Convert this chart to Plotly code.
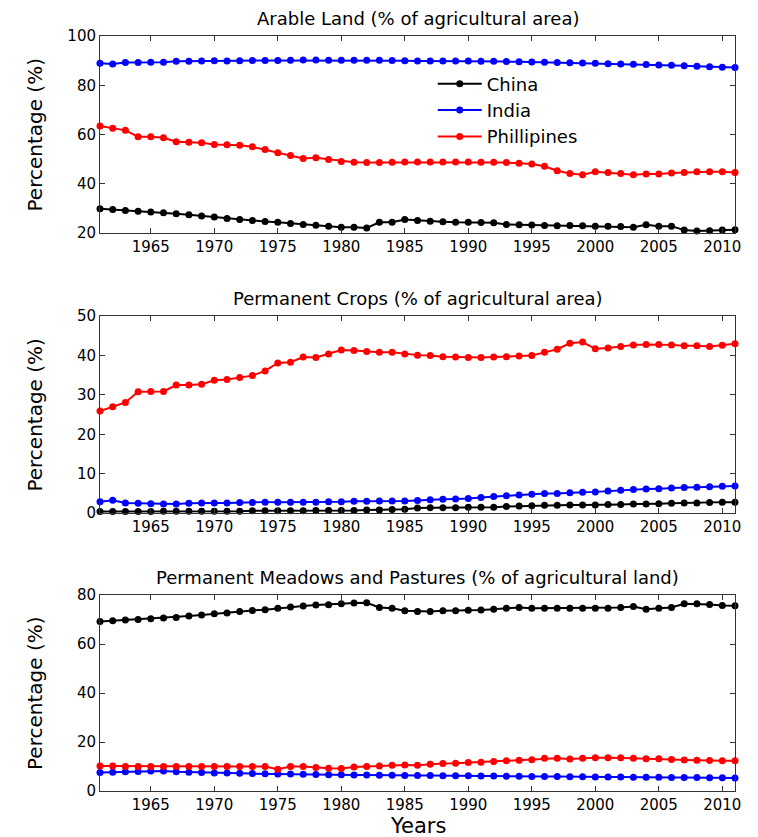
import plotly.graph_objects as go

years = list(range(1961, 2012))

# Arable land (% of agricultural area)
arable_china = [29.9, 29.6, 29.2, 28.9, 28.5, 28.2, 27.8, 27.4, 26.9, 26.5,
                25.9, 25.5, 25.1, 24.7, 24.4, 23.9, 23.5, 23.2, 22.8, 22.4,
                22.4, 22.1, 24.4, 24.4, 25.5, 25.1, 24.8, 24.6, 24.4, 24.4,
                24.3, 24.2, 23.5, 23.4, 23.3, 23.1, 23.0, 23.1, 23.0, 22.8,
                22.8, 22.7, 22.4, 23.4, 22.8, 22.8, 21.2, 20.8, 20.9, 21.2, 21.3]
arable_india = [88.9, 88.6, 89.2, 89.2, 89.3, 89.3, 89.7, 89.7, 89.9, 90.0,
                89.9, 90.0, 90.1, 90.1, 90.1, 90.2, 90.3, 90.3, 90.2, 90.2,
                90.2, 90.2, 90.2, 90.1, 90.0, 89.9, 89.9, 89.9, 89.8, 89.8,
                89.7, 89.7, 89.6, 89.5, 89.4, 89.3, 89.2, 89.1, 89.0, 88.9,
                88.7, 88.6, 88.5, 88.4, 88.2, 88.1, 87.9, 87.7, 87.5, 87.3, 87.2]
arable_phil = [63.5, 62.5, 61.7, 59.1, 59.1, 58.7, 57.1, 56.9, 56.7, 56.0,
               55.8, 55.6, 55.0, 53.9, 52.6, 51.5, 50.3, 50.6, 49.9, 49.1,
               48.7, 48.6, 48.6, 48.7, 48.8, 48.8, 48.8, 48.8, 48.8, 48.8,
               48.7, 48.7, 48.6, 48.3, 48.0, 47.1, 45.3, 44.2, 43.7, 44.9,
               44.6, 44.2, 43.7, 44.0, 44.0, 44.4, 44.6, 44.9, 44.9, 44.9, 44.6]

# Permanent crops (% of agricultural area)
crops_china = [0.4, 0.4, 0.4, 0.4, 0.4, 0.5, 0.5, 0.5, 0.5, 0.5,
               0.5, 0.5, 0.6, 0.6, 0.6, 0.6, 0.6, 0.7, 0.7, 0.7,
               0.7, 0.8, 0.8, 0.9, 1.0, 1.3, 1.4, 1.4, 1.4, 1.5,
               1.5, 1.5, 1.7, 1.8, 1.9, 2.0, 2.0, 2.1, 2.1, 2.1,
               2.2, 2.2, 2.3, 2.3, 2.4, 2.5, 2.6, 2.6, 2.7, 2.8, 2.8]
crops_india = [2.9, 3.3, 2.6, 2.5, 2.4, 2.3, 2.3, 2.5, 2.6, 2.6,
               2.6, 2.7, 2.7, 2.8, 2.8, 2.8, 2.8, 2.8, 2.9, 2.9,
               3.0, 3.0, 3.1, 3.1, 3.1, 3.2, 3.4, 3.5, 3.6, 3.7,
               4.0, 4.2, 4.4, 4.6, 4.8, 5.0, 5.0, 5.2, 5.3, 5.4,
               5.6, 5.8, 6.0, 6.1, 6.2, 6.4, 6.5, 6.6, 6.7, 6.8, 6.9]
crops_phil = [25.9, 27.0, 28.1, 30.8, 30.9, 30.9, 32.5, 32.5, 32.7, 33.7,
              33.9, 34.4, 34.9, 36.1, 38.1, 38.3, 39.6, 39.5, 40.4, 41.4,
              41.3, 41.0, 40.8, 40.8, 40.4, 40.1, 40.0, 39.7, 39.6, 39.5,
              39.5, 39.6, 39.7, 39.9, 40.0, 40.8, 41.6, 43.1, 43.4, 41.7,
              41.9, 42.3, 42.7, 42.8, 42.8, 42.7, 42.5, 42.5, 42.3, 42.6, 43.0]

# Permanent meadows and pastures (% of agricultural land)
past_china = [69.2, 69.5, 69.8, 70.0, 70.3, 70.6, 70.8, 71.4, 71.8, 72.3,
              72.7, 73.3, 73.7, 74.0, 74.6, 75.1, 75.5, 75.9, 76.0, 76.4,
              76.7, 76.8, 74.9, 74.6, 73.6, 73.3, 73.3, 73.6, 73.6, 73.8,
              73.9, 74.2, 74.6, 74.9, 74.6, 74.6, 74.6, 74.6, 74.6, 74.6,
              74.6, 74.9, 75.3, 74.2, 74.6, 74.9, 76.4, 76.4, 76.1, 75.7, 75.6]
past_india = [7.6, 7.7, 7.9, 8.0, 8.2, 8.2, 7.9, 7.7, 7.5, 7.3,
              7.3, 7.2, 7.1, 7.0, 6.9, 6.9, 6.8, 6.7, 6.6, 6.6,
              6.5, 6.5, 6.4, 6.4, 6.3, 6.3, 6.3, 6.2, 6.2, 6.2,
              6.1, 6.1, 6.0, 6.0, 5.9, 5.9, 5.9, 5.8, 5.8, 5.7,
              5.7, 5.7, 5.6, 5.6, 5.6, 5.5, 5.5, 5.5, 5.4, 5.4, 5.3]
past_phil = [10.2, 10.2, 10.0, 10.0, 10.0, 10.0, 10.0, 10.0, 10.0, 10.0,
             10.0, 10.0, 10.0, 10.0, 8.9, 10.0, 10.0, 9.6, 9.3, 9.2,
             9.8, 10.0, 10.2, 10.5, 10.6, 10.5, 10.9, 11.2, 11.3, 11.6,
             11.7, 12.0, 12.3, 12.5, 12.8, 13.4, 13.4, 13.1, 13.4, 13.6,
             13.6, 13.6, 13.4, 13.2, 13.2, 12.9, 12.7, 12.5, 12.4, 12.3, 12.3]

names = ["China", "India", "Phillipines"]
colors = ["#000000", "#0000ff", "#ff0000"]
panel_titles = ["Arable Land (% of agricultural area)",
                "Permanent Crops (% of agricultural area)",
                "Permanent Meadows and Pastures (% of agricultural land)"]
panel_series = [[arable_china, arable_india, arable_phil],
                [crops_china, crops_india, crops_phil],
                [past_china, past_india, past_phil]]
y_ranges = [[20, 100], [0, 50], [0, 80]]
y_ticks = [[20, 40, 60, 80, 100], [0, 10, 20, 30, 40, 50], [0, 20, 40, 60, 80]]
x_ticks = list(range(1965, 2011, 5))
domains = [[0.739, 1.0], [0.368, 0.629], [0.0, 0.2596]]

FONT = "DejaVu Sans, sans-serif"
fig = go.Figure()
# page body has an 8px margin: figure is sized so it fills the rest of the window
layout = dict(
    width=750, height=829,
    margin=dict(l=92, r=23, t=28, b=46),
    paper_bgcolor="white", plot_bgcolor="white",
    font=dict(family=FONT, color="black", size=15),
    showlegend=True,
    legend=dict(x=0.524, y=0.961, xanchor="left", yanchor="top",
                bgcolor="rgba(0,0,0,0)", borderwidth=0,
                font=dict(size=18, family=FONT, color="black"),
                tracegroupgap=0, itemwidth=44),
)
annotations = []
for i in range(3):
    k = "" if i == 0 else str(i + 1)
    for j in range(3):
        fig.add_trace(go.Scatter(
            x=years, y=panel_series[i][j], name=names[j], mode="lines+markers",
            line=dict(color=colors[j], width=2),
            marker=dict(color=colors[j], size=7),
            xaxis="x" + k, yaxis="y" + k, showlegend=(i == 0),
            cliponaxis=False,
        ))
    axis_common = dict(showgrid=False, zeroline=False, showline=True,
                       linecolor="#333333", linewidth=1, mirror="ticks",
                       ticks="inside", ticklen=5, tickcolor="#333333",
                       tickfont=dict(size=15, family=FONT, color="black"))
    layout["xaxis" + k] = dict(range=[1961, 2011], tickvals=x_ticks,
                               anchor="y" + k, domain=[0, 1], **axis_common)
    layout["yaxis" + k] = dict(range=y_ranges[i], tickvals=y_ticks[i],
                               domain=domains[i], anchor="x" + k, **axis_common)
    annotations.append(dict(text=panel_titles[i], xref="paper", yref="paper",
                            x=0.5, y=domains[i][1], xanchor="center", yanchor="bottom",
                            yshift=5, showarrow=False,
                            font=dict(size=18, family=FONT, color="black")))
    annotations.append(dict(text="Percentage (%)", xref="paper", yref="paper",
                            x=-0.1024, y=(domains[i][0] + domains[i][1]) / 2,
                            xanchor="center", yanchor="middle", textangle=-90,
                            showarrow=False,
                            font=dict(size=20, family=FONT, color="black")))
annotations.append(dict(text="Years", xref="paper", yref="paper",
                        x=0.5, y=0, xanchor="center", yanchor="top", yshift=-21,
                        showarrow=False, font=dict(size=21, family=FONT, color="black")))
layout["annotations"] = annotations
fig.update_layout(**layout)
fig.write_html("out.html")
